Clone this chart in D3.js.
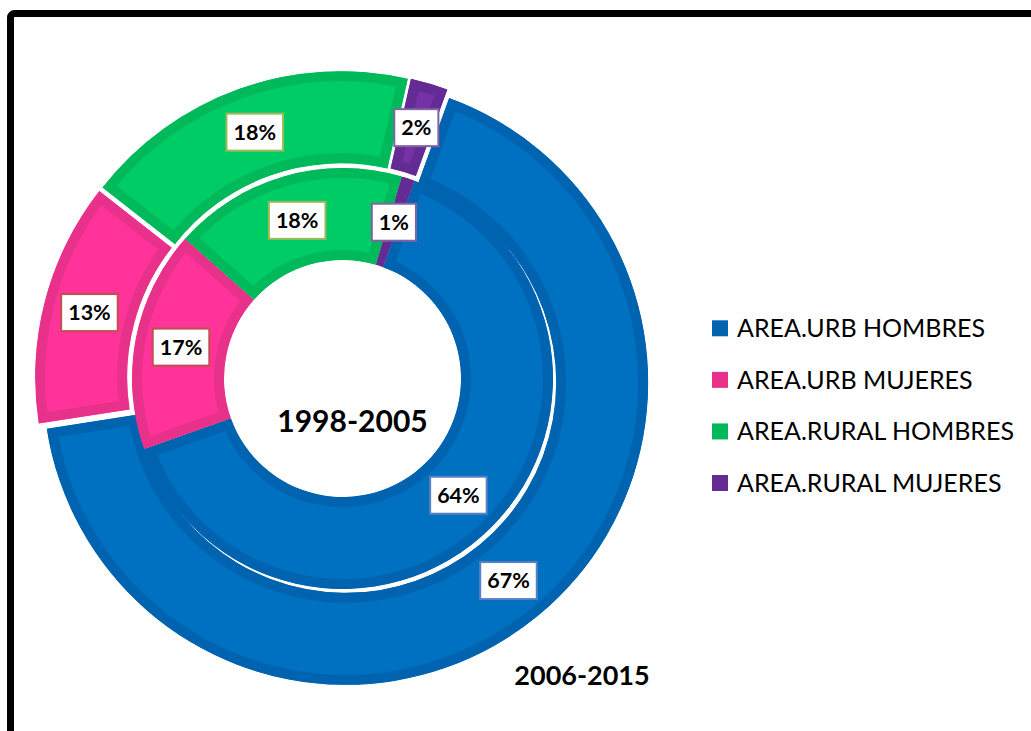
<!DOCTYPE html>
<html>
<head>
<meta charset="utf-8">
<script src="https://cdn.jsdelivr.net/npm/d3@7"></script>
<style>
  html, body { margin: 0; padding: 0; background: #ffffff; }
  svg { display: block; }
</style>
</head>
<body>
<svg id="chart" width="1031" height="731"></svg>
<script>
// ---- data ----
const categories = ["AREA.URB HOMBRES", "AREA.URB MUJERES", "AREA.RURAL HOMBRES", "AREA.RURAL MUJERES"];
const values1998_2005 = [64, 17, 18, 1];   // inner ring
const values2006_2015 = [67, 13, 18, 2];   // outer ring
const ringNames = ["1998-2005", "2006-2015"];

// ---- styles ----
const fillColors   = ["#0070C0", "#FF3399", "#00CC66", "#7432A6"];
const borderColors = ["#0063B0", "#E8318A", "#00B95A", "#642B94"];
const labelBorders = ["#5B7FC2", "#C0504D", "#9BBB59", "#8064A2"];

const W = 1031, H = 731;
const cx = 342.5, cy = 378.5;
const rHole = 118.5, rMid = 210.5, rOut = 302.5;
const explode = 5;
const rot = 20 * Math.PI / 180;
const band = 10;

const svg = d3.select("#chart");
const defs = svg.append("defs");

// frame
svg.append("rect")
  .attr("x", 10.5).attr("y", 13.5)
  .attr("width", 1200).attr("height", 1000)
  .attr("rx", 4)
  .attr("fill", "none").attr("stroke", "#000").attr("stroke-width", 7);

const color = d3.scaleOrdinal().domain(categories).range(fillColors);
const dark = d3.scaleOrdinal().domain(categories).range(borderColors);
const lblBorder = d3.scaleOrdinal().domain(categories).range(labelBorders);

const pie = d3.pie().sort(null).value(d => d.v)
  .startAngle(rot).endAngle(rot + 2 * Math.PI);

const rings = [
  { name: ringNames[0], values: values1998_2005, r0: rHole, r1: rMid, ex: 0 },
  { name: ringNames[1], values: values2006_2015, r0: rMid, r1: rOut, ex: explode }
];

const g = svg.append("g").attr("transform", `translate(${cx},${cy})`);
const labelG = svg.append("g").attr("transform", `translate(${cx},${cy})`);
let clipId = 0;

rings.slice().reverse().forEach((ring) => {
  const arcs = pie(categories.map((c, i) => ({ c, v: ring.values[i] })));
  const arc = d3.arc().innerRadius(ring.r0).outerRadius(ring.r1);
  arcs.forEach(a => {
    const mid = (a.startAngle + a.endAngle) / 2;
    const dx = ring.ex * Math.sin(mid), dy = -ring.ex * Math.cos(mid);
    const id = "clip" + (clipId++);
    const d = arc(a);
    defs.append("clipPath").attr("id", id).append("path").attr("d", d);
    g.append("g").attr("transform", `translate(${dx},${dy})`)
      .append("path")
      .attr("d", d)
      .attr("fill", color(a.data.c))
      .attr("stroke", dark(a.data.c))
      .attr("stroke-width", band * 2)
      .attr("stroke-linejoin", "miter")
      .attr("clip-path", `url(#${id})`);

    // label
    const [lx, ly] = arc.centroid(a);
    const lg = labelG.append("g").attr("transform", `translate(${lx + dx},${ly + dy})`);
    const rect = lg.append("rect");
    const t = lg.append("text")
      .attr("text-anchor", "middle")
      .attr("dy", "0.36em")
      .attr("font-family", "Lato, 'Open Sans', sans-serif")
      .attr("font-weight", "bold")
      .attr("font-size", 21.5)
      .attr("fill", "#000")
      .text(a.data.v + "%");
    const tw = t.node().getComputedTextLength();
    const bw = tw + 14, bh = 37;
    rect.attr("x", -bw / 2).attr("y", -bh / 2)
      .attr("width", bw).attr("height", bh)
      .attr("fill", "#fff")
      .attr("stroke", lblBorder(a.data.c))
      .attr("stroke-width", 2);
  });
});

// ring names
svg.append("text")
  .attr("x", 352.5).attr("y", 431.5)
  .attr("text-anchor", "middle")
  .attr("font-family", "Lato, 'Open Sans', sans-serif")
  .attr("font-weight", "bold").attr("font-size", 30)
  .text(ringNames[0]);
svg.append("text")
  .attr("x", 582).attr("y", 685)
  .attr("text-anchor", "middle")
  .attr("font-family", "Lato, 'Open Sans', sans-serif")
  .attr("font-weight", "bold").attr("font-size", 27)
  .text(ringNames[1]);

// legend
const ly = d3.scalePoint().domain(categories).range([328.3, 483]);
const leg = svg.append("g");
categories.forEach(c => {
  leg.append("rect")
    .attr("x", 712).attr("y", ly(c) - 8)
    .attr("width", 16).attr("height", 16)
    .attr("fill", dark(c));
  leg.append("text")
    .attr("x", 737).attr("y", ly(c))
    .attr("dy", "0.36em")
    .attr("font-family", "Lato, 'Open Sans', sans-serif")
    .attr("font-size", 25)
    .attr("fill", "#000")
    .text(c);
});
</script>
</body>
</html>
